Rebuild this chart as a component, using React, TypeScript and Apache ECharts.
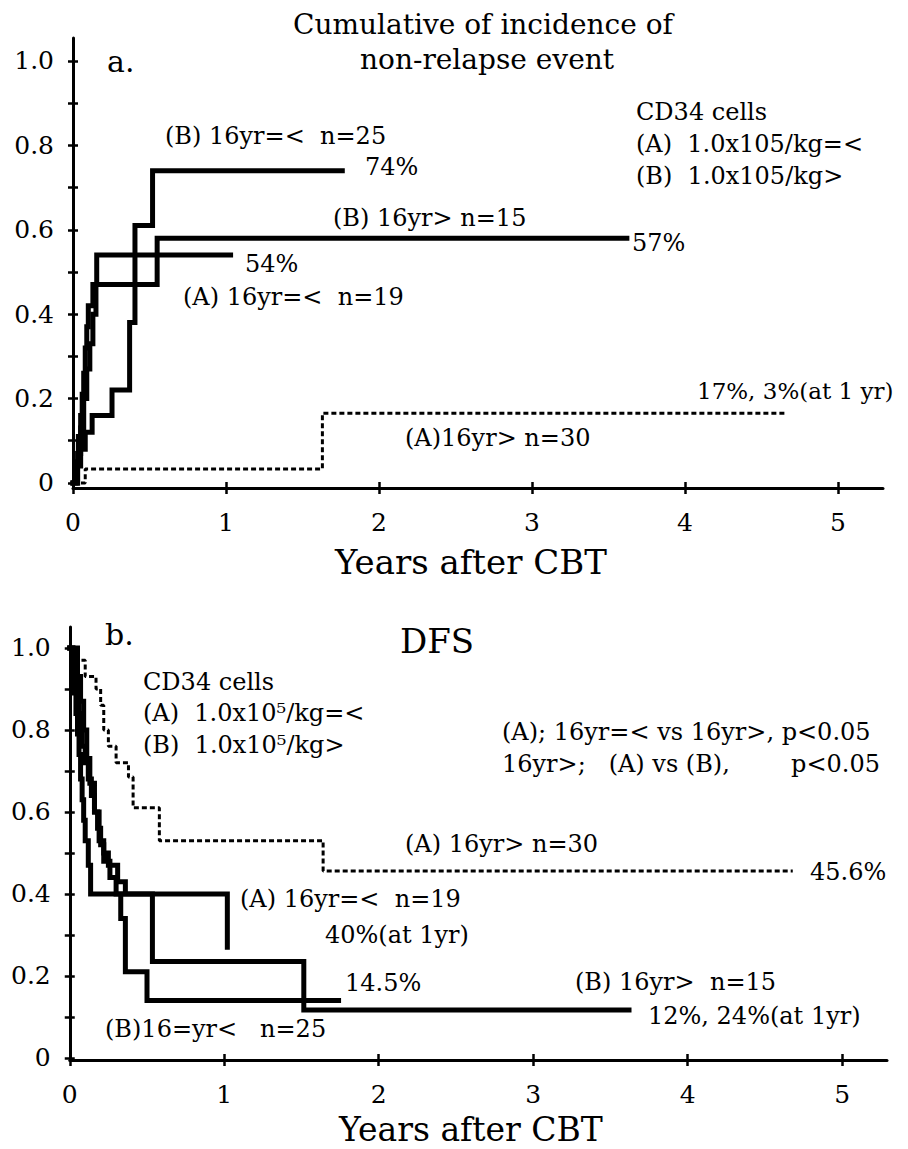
import React, { useEffect, useRef } from "react";
import * as echarts from "echarts";

const W = 900;
const H = 1141;
const FONT = "DejaVu Serif";

// ---- axis ticks ----
const xTickValues = [0, 1, 2, 3, 4, 5];
const yLabelValues = [0, 0.2, 0.4, 0.6, 0.8, 1.0];
const yTickValues = [0, 0.1, 0.2, 0.3, 0.4, 0.5, 0.6, 0.7, 0.8, 0.9, 1.0];

// ---- panel a: cumulative incidence of non-relapse event ----
const aBle16T = [0, 0.03, 0.05, 0.08, 0.125, 0.255, 0.37, 0.405, 0.52, 1.76];
const aBle16V = [0, 0.04, 0.08, 0.12, 0.16, 0.22, 0.38, 0.61, 0.74, 0.74];

const aAle16T = [0, 0.02, 0.035, 0.05, 0.06, 0.07, 0.08, 0.09, 0.1, 0.13, 0.155, 1.03];
const aAle16V = [0, 0.05, 0.11, 0.16, 0.21, 0.26, 0.32, 0.37, 0.42, 0.47, 0.54, 0.54];

const aBgt16T = [0, 0.03, 0.05, 0.07, 0.09, 0.11, 0.13, 0.15, 0.55, 3.62];
const aBgt16V = [0, 0.07, 0.13, 0.2, 0.27, 0.33, 0.4, 0.47, 0.58, 0.58];

const aAgt16T = [0, 0.08, 1.63, 4.65];
const aAgt16V = [0, 0.033, 0.165, 0.165];

// ---- panel b: DFS ----
const bAgt16T = [0, 0.05, 0.1, 0.17, 0.2, 0.22, 0.25, 0.3, 0.38, 0.41, 0.58, 1.64, 4.68];
const bAgt16V = [1, 0.97, 0.93, 0.9, 0.86, 0.8, 0.76, 0.72, 0.685, 0.61, 0.53, 0.456, 0.456];

const bAle16T = [0, 0.02, 0.03, 0.04, 0.05, 0.06, 0.07, 0.08, 0.09, 0.1, 0.12, 0.135, 1.02];
const bAle16V = [1, 0.95, 0.89, 0.84, 0.79, 0.74, 0.68, 0.63, 0.58, 0.53, 0.47, 0.4, 0.27];

const bBle16T = [0, 0.02, 0.04, 0.05, 0.06, 0.07, 0.08, 0.1, 0.12, 0.14, 0.16, 0.18, 0.2, 0.22, 0.26, 0.3, 0.33, 0.36, 0.5, 1.74];
const bBle16V = [1, 0.96, 0.92, 0.88, 0.84, 0.8, 0.76, 0.72, 0.68, 0.64, 0.6, 0.56, 0.52, 0.48, 0.44, 0.4, 0.34, 0.21, 0.14, 0.14];

const bBgt16T = [0, 0.05, 0.07, 0.09, 0.11, 0.13, 0.16, 0.19, 0.22, 0.25, 0.31, 0.36, 0.535, 1.515, 3.62];
const bBgt16V = [1, 0.93, 0.87, 0.8, 0.73, 0.67, 0.6, 0.53, 0.5, 0.47, 0.43, 0.4, 0.235, 0.117, 0.117];

function zip(t: number[], v: number[]) {
  return t.map((x, i) => [x, v[i]]);
}

function App() {
  const ref = useRef<HTMLDivElement>(null);

  useEffect(() => {
    if (!ref.current) return;
    const chart = echarts.init(ref.current, null, { renderer: "svg" });

    const txt = (x: number, y: number, text: string, size = 24, align = "left") => ({
      type: "text",
      x: x - 8,
      y: y - 8,
      silent: true,
      style: {
        text,
        fontSize: size,
        fontFamily: FONT,
        fill: "#000",
        align,
        verticalAlign: "middle",
      },
    });

    const labelStyle = {
      fontSize: 25,
      fontFamily: FONT,
      fontWeight: "normal",
      color: "#000",
    };

    const mkX = (grid: number, max: number, inside: boolean) => ({
      type: "value",
      gridIndex: grid,
      min: 0,
      max,
      interval: 1,
      position: "bottom",
      offset: 0,
      axisLine: { show: !inside, onZero: false, lineStyle: { color: "#000", width: 3 } },
      axisTick: {
        show: true,
        inside,
        length: 6,
        customValues: xTickValues,
        lineStyle: { color: "#000", width: 2.5 },
      },
      axisLabel: {
        show: !inside,
        margin: 22,
        ...labelStyle,
        showMaxLabel: false,
        formatter: (v: number) => (xTickValues.indexOf(Math.round(v)) >= 0 && Math.abs(v - Math.round(v)) < 1e-6 ? String(Math.round(v)) : ""),
      },
      splitLine: { show: false },
    });

    const mkY = (grid: number, min: number, max: number, inside: boolean) => ({
      type: "value",
      gridIndex: grid,
      min,
      max,
      position: "left",
      offset: 0,
      axisLine: { show: !inside, onZero: false, lineStyle: { color: "#000", width: 3 } },
      axisTick: {
        show: true,
        inside,
        length: 5,
        customValues: yTickValues,
        lineStyle: { color: "#000", width: 2.5 },
      },
      axisLabel: {
        show: !inside,
        customValues: yLabelValues,
        margin: 19,
        ...labelStyle,
        textStyle: labelStyle,
        formatter: (v: number) => (Math.abs(v) < 1e-9 ? "0" : v.toFixed(1)),
      },
      splitLine: { show: false },
    });

    const solid = (name: string, data: number[][], xi: number, yi: number) => ({
      name,
      type: "line",
      step: "end",
      xAxisIndex: xi,
      yAxisIndex: yi,
      data,
      showSymbol: false,
      symbol: "none",
      lineStyle: { color: "#000", width: 5, cap: "square", join: "miter" },
      silent: true,
    });
    const dashed = (name: string, data: number[][], xi: number, yi: number) => ({
      name,
      type: "line",
      step: "end",
      xAxisIndex: xi,
      yAxisIndex: yi,
      data,
      showSymbol: false,
      symbol: "none",
      lineStyle: { color: "#000", width: 3, type: [5, 3] },
      silent: true,
    });

    const option = {
      animation: false,
      backgroundColor: "#fff",
      textStyle: { fontFamily: FONT },
      grid: [
        { left: 65, right: W - 875, top: 30, bottom: H - 480, containLabel: false },
        { left: 61, right: W - 879, top: 619, bottom: H - 1052, containLabel: false },
      ],
      xAxis: [mkX(0, 5.294, false), mkX(0, 5.294, true), mkX(1, 5.29, false), mkX(1, 5.29, true)],
      yAxis: [
        mkY(0, -0.012, 1.0545, false),
        mkY(0, -0.012, 1.0545, true),
        mkY(1, -0.005, 1.051, false),
        mkY(1, -0.005, 1.051, true),
      ],
      series: [
        dashed("a (A) 16yr> n=30", zip(aAgt16T, aAgt16V), 0, 0),
        solid("a (B) 16yr=< n=25", zip(aBle16T, aBle16V), 0, 0),
        solid("a (A) 16yr=< n=19", zip(aAle16T, aAle16V), 0, 0),
        solid("a (B) 16yr> n=15", zip(aBgt16T, aBgt16V), 0, 0),
        dashed("b (A) 16yr> n=30", zip(bAgt16T, bAgt16V), 2, 2),
        solid("b (A) 16yr=< n=19", zip(bAle16T, bAle16V), 2, 2),
        solid("b (B) 16yr=< n=25", zip(bBle16T, bBle16V), 2, 2),
        solid("b (B) 16yr> n=15", zip(bBgt16T, bBgt16V), 2, 2),
      ],
      graphic: [
        // panel a
        txt(483, 24, "Cumulative of incidence of", 28, "center"),
        txt(487, 59, "non-relapse event", 28, "center"),
        txt(107, 61, "a.", 30),
        txt(636, 112, "CD34 cells"),
        txt(636, 144, "(A)\u00a0 1.0x105/kg=<"),
        txt(636, 176, "(B)\u00a0 1.0x105/kg>"),
        txt(165, 136, "(B) 16yr=<\u00a0 n=25"),
        txt(365, 167, "74%"),
        txt(333, 218, "(B) 16yr> n=15"),
        txt(632, 243, "57%"),
        txt(245, 264, "54%"),
        txt(183, 297, "(A) 16yr=<\u00a0 n=19"),
        txt(697, 391, "17%, 3%(at 1 yr)", 23),
        txt(405, 438, "(A)16yr> n=30"),
        txt(471, 562, "Years after CBT", 34, "center"),
        // panel b
        txt(105, 634, "b.", 30),
        txt(400, 641, "DFS", 34),
        txt(143, 682, "CD34 cells"),
        txt(143, 713, "(A)\u00a0 1.0x10\u2075/kg=<"),
        txt(143, 745, "(B)\u00a0 1.0x10\u2075/kg>"),
        txt(502, 732, "(A); 16yr=< vs 16yr>, p<0.05"),
        txt(502, 764, "16yr>;\u00a0\u00a0 (A) vs (B),"),
        txt(880, 764, "p<0.05", 24, "right"),
        txt(405, 844, "(A) 16yr> n=30"),
        txt(810, 872, "45.6%"),
        txt(240, 899, "(A) 16yr=<\u00a0 n=19"),
        txt(325, 935, "40%(at 1yr)"),
        txt(345, 983, "14.5%"),
        txt(575, 982, "(B) 16yr>\u00a0 n=15"),
        txt(648, 1016, "12%, 24%(at 1yr)"),
        txt(105, 1029, "(B)16=yr<\u00a0\u00a0 n=25"),
        txt(471, 1129, "Years after CBT", 33, "center"),
      ],
    };

    chart.setOption(option as any);
    return () => chart.dispose();
  }, []);

  return (
    <div
      ref={ref}
      style={{ position: "absolute", left: 8, top: 8, width: W, height: H }}
    />
  );
}

export default App;
